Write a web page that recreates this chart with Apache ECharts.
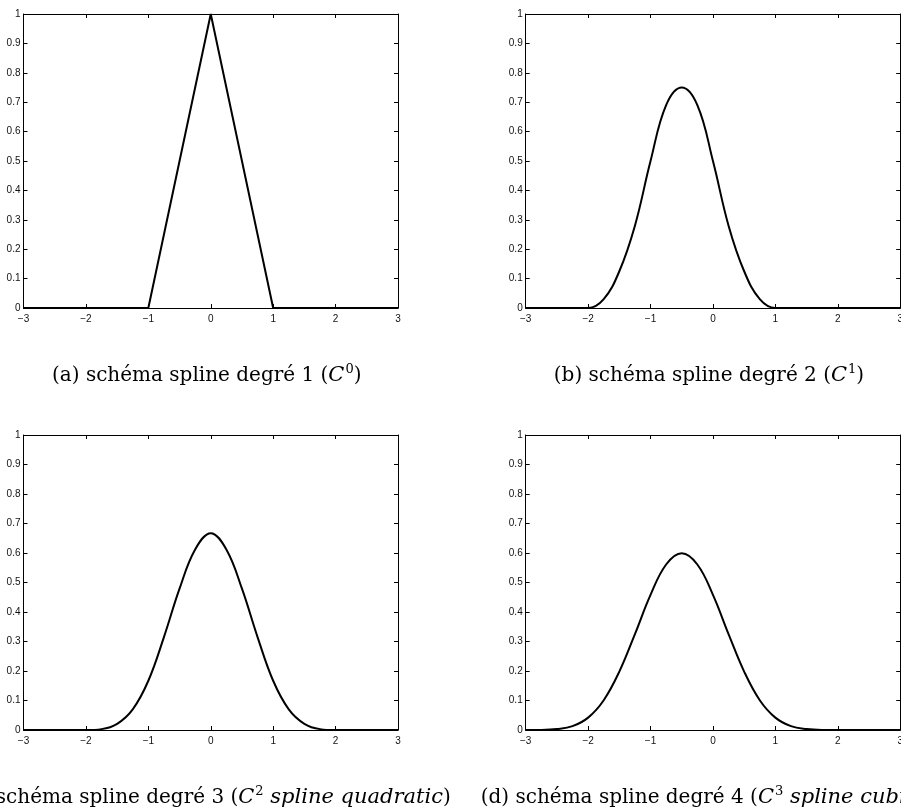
<!DOCTYPE html>
<html>
<head>
<meta charset="utf-8">
<script src="https://cdn.jsdelivr.net/npm/echarts@6/dist/echarts.min.js"></script>
<style>
  html, body { margin: 0; padding: 0; background: #fff; }
  #chart { width: 901px; height: 811px; }
</style>
</head>
<body>
<div id="chart"></div>
<script>
// axis ticks
var xTicks = [-3, -2, -1, 0, 1, 2, 3];
var xTickLabels = ['\u22123', '\u22122', '\u22121', '0', '1', '2', '3'];
var yTicks = [0, 0.1, 0.2, 0.3, 0.4, 0.5, 0.6, 0.7, 0.8, 0.9, 1];
var yTickLabels = ['0', '0.1', '0.2', '0.3', '0.4', '0.5', '0.6', '0.7', '0.8', '0.9', '1'];

// (a) degré 1
var deg1 = [[-3, 0], [-1, 0], [0, 1], [1, 0], [3, 0]];
// (b) degré 2
var deg2 = [[-3, 0], [-2.25, 0], [-2, 0], [-1.75, 0.03], [-1.5, 0.125], [-1.25, 0.28], [-1, 0.5],
    [-0.75, 0.69], [-0.5, 0.75], [-0.25, 0.69], [0, 0.5], [0.25, 0.28], [0.5, 0.125],
    [0.75, 0.03], [1, 0], [1.25, 0], [3, 0]];
// (c) degré 3
var deg3 = [[-3, 0], [-2.25, 0], [-2, 0], [-1.75, 0.003], [-1.5, 0.021], [-1.25, 0.07], [-1, 0.167],
    [-0.75, 0.315], [-0.5, 0.479], [-0.25, 0.612], [0, 0.667], [0.25, 0.612], [0.5, 0.479],
    [0.75, 0.315], [1, 0.167], [1.25, 0.07], [1.5, 0.021], [1.75, 0.003], [2, 0], [2.25, 0], [3, 0]];
// (d) degré 4
var deg4 = [[-3, 0], [-2.75, 0.0002], [-2.5, 0.003], [-2.25, 0.013], [-2, 0.042], [-1.75, 0.101],
    [-1.5, 0.198], [-1.25, 0.325], [-1, 0.458], [-0.75, 0.561], [-0.5, 0.599], [-0.25, 0.561],
    [0, 0.458], [0.25, 0.325], [0.5, 0.198], [0.75, 0.101], [1, 0.042], [1.25, 0.013],
    [1.5, 0.003], [1.75, 0.0002], [2, 0], [3, 0]];

var curves = [deg1, deg2, deg3, deg4];
var smoothing = [false, 0.4, 0.4, 0.4];

var captions = [
    '{n|(a) schéma spline degré 1 (}{i|C}{s|0}{n|)}',
    '{n|(b) schéma spline degré 2 (}{i|C}{s|1}{n|)}',
    '{n|(c) schéma spline degré 3 (}{i|C}{s|2}{i| spline quadratic}{n|)}',
    '{n|(d) schéma spline degré 4 (}{i|C}{s|3}{i| spline cubic}{n|)}'
];

var grids = [
    {left: 23.5, top: 14, width: 374.5, height: 294, outerBoundsMode: 'none'},
    {left: 525.7, top: 14, width: 374.5, height: 294, outerBoundsMode: 'none'},
    {left: 23.5, top: 435, width: 374.5, height: 295, outerBoundsMode: 'none'},
    {left: 525.7, top: 435, width: 374.5, height: 295, outerBoundsMode: 'none'}
];

var chart = echarts.init(document.getElementById('chart'));

var labelFont = {fontFamily: 'Liberation Sans, Arial, sans-serif', fontSize: 10, color: '#111'};
var xAxes = [], yAxes = [], series = [], graphics = [];

grids.forEach(function (g, i) {
    [ 'bottom', 'top' ].forEach(function (pos) {
        xAxes.push({
            type: 'value', gridIndex: i, position: pos, min: -3, max: 3, interval: 1,
            axisLine: {show: true, onZero: false, lineStyle: {color: '#000', width: 1}},
            axisTick: {show: true, inside: true, length: 4, lineStyle: {color: '#000'}},
            splitLine: {show: false},
            axisLabel: Object.assign({
                show: pos === 'bottom', margin: 6,
                formatter: function (v) { return xTickLabels[xTicks.indexOf(v)]; }
            }, labelFont)
        });
    });
    [ 'left', 'right' ].forEach(function (pos) {
        yAxes.push({
            type: 'value', gridIndex: i, position: pos, min: 0, max: 1, interval: 0.1,
            axisLine: {show: true, onZero: false, lineStyle: {color: '#000', width: 1}},
            axisTick: {show: true, inside: true, length: 4, lineStyle: {color: '#000'}},
            splitLine: {show: false},
            axisLabel: Object.assign({
                show: pos === 'left', margin: 3,
                formatter: function (v) {
                    return yTickLabels[Math.round(v * 10)];
                }
            }, labelFont)
        });
    });
    series.push({
        type: 'line', xAxisIndex: i * 2, yAxisIndex: i * 2,
        data: curves[i], smooth: smoothing[i], showSymbol: false,
        lineStyle: {color: '#000', width: 2}, z: 5
    });
    graphics.push({
        type: 'text',
        x: g.left + g.width / 2 - (i === 3 ? 10 : 4),
        y: g.top + g.height + 68,
        style: {
            text: captions[i],
            align: 'center',
            verticalAlign: 'middle',
            rich: {
                n: {fontFamily: 'DejaVu Serif', fontSize: 20, color: '#000', lineHeight: 26},
                i: {fontFamily: 'DejaVu Serif', fontStyle: 'italic', fontSize: 21, color: '#000', lineHeight: 26},
                s: {fontFamily: 'DejaVu Serif', fontSize: 13, color: '#000', verticalAlign: 'top', lineHeight: 26, padding: [0, 0, 10, 1]}
            }
        }
    });
});

var option = {
    animation: false,
    backgroundColor: '#fff',
    grid: grids,
    xAxis: xAxes,
    yAxis: yAxes,
    series: series,
    graphic: graphics
};

chart.setOption(option);
window.addEventListener('resize', function () {
    chart.resize();
});
</script>
</body>
</html>
